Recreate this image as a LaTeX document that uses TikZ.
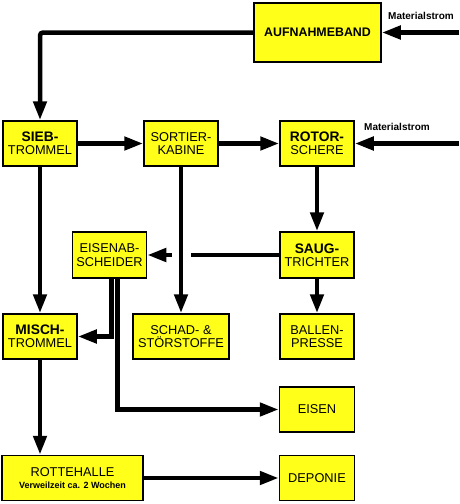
\documentclass[tikz,border=0pt]{standalone}
\usepackage{fontspec}
\setmainfont{Liberation Sans}
\usetikzlibrary{arrows.meta,backgrounds}

\definecolor{boxyellow}{RGB}{255,255,25}
\newcommand{\hd}[1]{{\fontsize{13.8}{13.4}\selectfont\bfseries #1}}
\tikzset{
  box/.style={draw=black, line width=1.5pt, fill=boxyellow, minimum width=74pt, minimum height=45pt,
    inner sep=0pt, align=center, font=\fontsize{12.8}{13.4}\selectfont},
  flow/.style={line width=4.5pt, -{Triangle[length=19pt,width=13pt]}},
  strom/.style={font=\fontsize{10}{12}\selectfont\bfseries}
}

\begin{document}
\begin{tikzpicture}[x=10pt,y=-10pt]
  \useasboundingbox (0,0) rectangle (45.9,50.4);
   \draw (31.75,3.25) node[box,minimum width=127pt,minimum height=59pt] (aufnahme) {{\fontsize{12.4}{13.4}\selectfont\bfseries AUFNAHMEBAND}};
   \draw (42.1,1.55) node[strom] (strom1) {Materialstrom};
    \draw (4,14.35) node[box] (sieb) {\hd{SIEB-}\\TROMMEL};
    \draw (18.1,14.35) node[box] (sortier) {SORTIER-\\KABINE};
    \draw (31.7,14.35) node[box] (rotor) {\hd{ROTOR-}\\SCHERE};
   \draw (39.7,12.65) node[strom] (strom2) {Materialstrom};
       \draw (10.95,25.5) node[box,minimum height=46pt] (eisenab) {EISENAB-\\SCHEIDER};
       \draw (31.7,25.5) node[box,minimum height=46pt] (saug) {\hd{SAUG-}\\TRICHTER};
    \draw (4,33.65) node[box] (misch) {\hd{MISCH-}\\TROMMEL};
    \draw (18.1,33.65) node[box,minimum width=96pt] (schad) {SCHAD- \&\\STÖRSTOFFE};
    \draw (31.7,33.65) node[box] (ballen) {BALLEN-\\PRESSE};
       \draw (31.7,40.95) node[box,minimum width=75pt] (eisen) {EISEN};
  \draw (7.25,47.8) node[box,minimum width=141pt] (rotte) {ROTTEHALLE\\[-1.5pt]{\fontsize{9}{10}\selectfont\bfseries Verweilzeit ca. 2 Wochen}};
       \draw (31.7,47.8) node[box,minimum width=75pt] (deponie) {DEPONIE};
  \coordinate (in1) at (45.9,3.25);
  \coordinate (in2) at (45.9,14.35);

  \begin{scope}[on background layer]
    \draw[flow] (in1) -- (aufnahme.east);
    \draw[flow,rounded corners=3pt] (aufnahme.west) -| (sieb.north);
    \draw[flow] (in2) -- (rotor.east);
      \draw[flow] (sieb) -- (sortier);
      \draw[flow] (sortier) -- (rotor);
      \draw[flow] (rotor) -- (saug);
      \draw[flow] (saug) -- (ballen);
      \draw[flow] (saug) -- (eisenab);
    \draw[flow,preaction={draw=white,line width=19pt,-}] (sortier) -- (schad);
      \draw[flow] (sieb) -- (misch);
    \draw[flow] ([xshift=2pt]eisenab.south) |- (misch.east);
    \draw[flow] ([xshift=8pt]eisenab.south) |- (eisen.west);
      \draw[flow] (misch.south) -- (misch.south |- rotte.north);
      \draw[flow] (rotte) -- (deponie);
  \end{scope}
\end{tikzpicture}
\end{document}
